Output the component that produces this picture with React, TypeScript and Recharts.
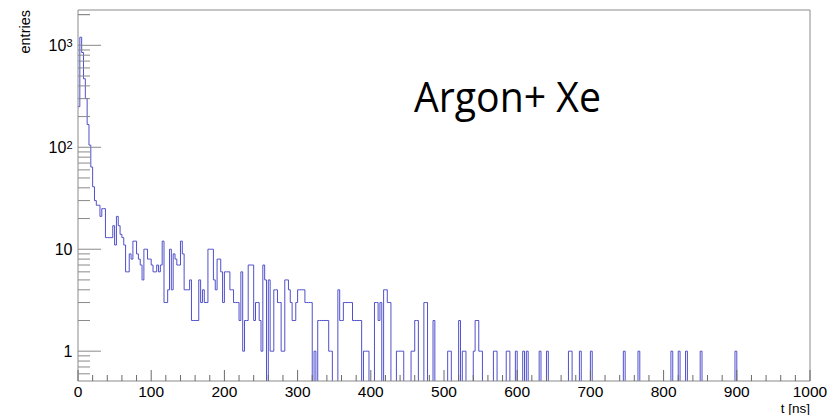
import { ComposedChart, Line, XAxis, YAxis, ReferenceLine, Customized } from 'recharts';

const BIN_WIDTH = 2.5; // ns
const N_BINS = 400;
const Y_MIN = 0.51;
const Y_MAX = 2220;
const ZERO_FLOOR = 0.3; // empty bins fall below the frame and get clipped

// entries per 2.5 ns bin, bins 0..93
const countsEarly = [
  250, 1200, 850, 470, 300, 167, 105, 64, 41, 30,
  27, 27, 21, 25, 25, 13, 13, 13, 13, 17,
  11, 21, 17, 14, 13, 11, 6, 6, 9, 8,
  12, 12, 9, 8, 7, 5, 10, 10, 8, 8,
  7, 6, 6, 7, 6, 7, 12, 3, 3, 4,
  10, 4, 9, 8, 7, 7, 12, 9, 4, 4,
  4, 5, 2, 2, 2, 2, 5, 3, 4, 3,
  3, 10, 10, 10, 5, 4, 8, 8, 6, 3,
  6, 6, 6, 4, 4, 3, 3, 3, 2, 6,
  1, 2, 2, 7,
];

// bins 94..195
const countsMid = [
  7, 7, 2, 3, 3, 2, 1, 7, 5, 0,
  5, 1, 1, 4, 4, 3, 3, 1, 1, 5,
  5, 4, 3, 2, 2, 3, 4, 4, 4, 4,
  3, 3, 3, 3, 0, 1, 0, 2, 2, 2,
  2, 2, 2, 1, 1, 0, 0, 0, 4, 2,
  2, 3, 3, 3, 3, 3, 2, 2, 2, 2,
  2, 0, 1, 1, 1, 0, 0, 0, 3, 3,
  2, 3, 0, 4, 4, 3, 3, 0, 0, 0,
  1, 1, 1, 1, 0, 0, 0, 0, 1, 1,
  2, 2, 0, 0, 0, 3, 3, 0, 0, 0,
  2, 0,
];

// sparse tail: non-empty bins after 195
const tailBins = [202, 203, 208, 210, 211, 216, 217, 218, 219, 220, 227, 228, 234, 235, 239, 243, 245, 252, 256, 268, 269, 274, 280, 298, 306, 324, 328, 332, 340, 359];
const tailCounts = [1, 1, 2, 1, 1, 1, 2, 2, 1, 1, 1, 1, 1, 1, 1, 1, 1, 1, 1, 1, 1, 1, 1, 1, 1, 1, 1, 1, 1, 1];

const xMajorTicks = [0, 100, 200, 300, 400, 500, 600, 700, 800, 900, 1000];
const yMajorTicks = [1, 10, 100, 1000];
const yLabelBase = ['1', '10', '10', '10'];
const yLabelExp = ['', '', '2', '3'];

const counts: number[] = new Array(N_BINS).fill(0);
countsEarly.forEach((c, i) => (counts[i] = c));
countsMid.forEach((c, i) => (counts[94 + i] = c));
tailBins.forEach((b, i) => (counts[b] = tailCounts[i]));

const data = counts.map((c, i) => ({ t: i * BIN_WIDTH, n: c > 0 ? c : ZERO_FLOOR }));
data.push({ t: N_BINS * BIN_WIDTH, n: data[N_BINS - 1].n });

// minor ticks: 5 divisions on x, 1..9 per decade on y
const xTicks: number[] = [];
xMajorTicks.forEach((v, i) => {
  xTicks.push(v);
  if (i < xMajorTicks.length - 1) for (let k = 1; k < 5; k++) xTicks.push(v + k * 20);
});
const yTicks: number[] = [0.6, 0.7, 0.8, 0.9];
yMajorTicks.forEach((d) => {
  for (let k = 1; k < 10; k++) if (d * k <= Y_MAX) yTicks.push(d * k);
});
yTicks.push(2000);

const AXIS_GREY = '#8a8a8a';
const FONT = '"Liberation Sans", Arial, Helvetica, sans-serif';

const XTick = ({ x, y, payload }: any) => {
  const major = xMajorTicks.includes(payload.value);
  return (
    <g>
      <line x1={x} x2={x} y1={y} y2={y - (major ? 11 : 6)} stroke="#6a6a6a" />
      {major && (
        <text x={x} y={y + 16} textAnchor="middle" fontSize={15.5} fontFamily={FONT} fill="#000">
          {payload.value}
        </text>
      )}
    </g>
  );
};

const YTick = ({ x, y, payload }: any) => {
  const idx = yMajorTicks.findIndex((m) => Math.abs(m - payload.value) < 1e-9);
  const major = idx >= 0;
  return (
    <g>
      <line x1={x} x2={x + (major ? 23 : 12)} y1={y} y2={y} stroke={AXIS_GREY} />
      {major && (
        <text x={x - 5.5} y={y + 6} textAnchor="end" fontSize={16} fontFamily={FONT} fill="#000">
          {yLabelBase[idx]}
          {yLabelExp[idx] && (
            <tspan dy={-4.5} fontSize={11}>
              {yLabelExp[idx]}
            </tspan>
          )}
        </text>
      )}
    </g>
  );
};

const Annotations = () => (
  <g fontFamily={FONT} fill="#000">
    <text
      x={414}
      y={112}
      fontSize={42}
      fontFamily='"Open Sans", sans-serif'
      textLength={187}
      lengthAdjust="spacingAndGlyphs"
    >
      Argon+ Xe
    </text>
    <text transform="rotate(-90)" x={-10} y={30} textAnchor="end" fontSize={14.5}>
      entries
    </text>
    <text x={810} y={412.5} textAnchor="end" fontSize={13.5}>
      t [ns]
    </text>
  </g>
);

export default function App() {
  return (
    <div style={{ position: 'absolute', left: 0, top: 0, background: '#fff' }}>
      <ComposedChart width={830} height={415} data={data} margin={{ top: 10, right: 20, left: 0, bottom: 0 }}>
        <XAxis
          dataKey="t"
          type="number"
          domain={[0, 1000]}
          ticks={xTicks}
          interval={0}
          height={34}
          tickSize={0}
          tickMargin={0}
          tickLine={false}
          axisLine={{ stroke: AXIS_GREY }}
          tick={(p: any) => <XTick {...p} />}
        />
        <YAxis
          type="number"
          scale="log"
          domain={[Y_MIN, Y_MAX]}
          allowDataOverflow
          ticks={yTicks}
          interval={0}
          width={78}
          tickSize={0}
          tickMargin={0}
          tickLine={false}
          axisLine={{ stroke: AXIS_GREY }}
          tick={(p: any) => <YTick {...p} />}
        />
        <ReferenceLine y={Y_MAX} stroke={AXIS_GREY} />
        <ReferenceLine x={1000} stroke={AXIS_GREY} />
        <Line
          dataKey="n"
          type="stepAfter"
          stroke="#5050cc"
          strokeWidth={1}
          dot={false}
          activeDot={false}
          isAnimationActive={false}
        />
        <Customized component={Annotations} />
      </ComposedChart>
    </div>
  );
}
